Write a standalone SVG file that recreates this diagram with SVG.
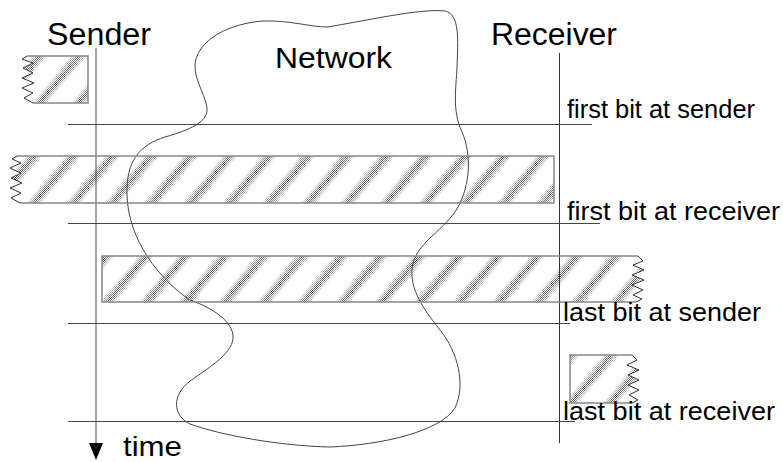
<svg xmlns="http://www.w3.org/2000/svg" width="783" height="462" viewBox="0 0 783 462">
<style>
.t{font-family:"Liberation Sans",Arial,sans-serif;fill:#000}
.big{font-size:31px}
.lbl{font-size:25px}
.hl{stroke:#444;stroke-width:1;fill:none}
.edge{stroke:#888;stroke-width:1.5;fill:none}
.zz{stroke:#333;stroke-width:1;fill:none}
.cloud{stroke:#444;stroke-width:1;fill:none}
</style>
<defs>
<pattern id="checker" width="2" height="2" patternUnits="userSpaceOnUse"><rect width="1" height="1" fill="#444"/><rect x="1" y="1" width="1" height="1" fill="#444"/></pattern>
<linearGradient id="sg" x1="0" y1="0" x2="1" y2="0"><stop offset="0" stop-color="#000"/><stop offset="0.25" stop-color="#777"/><stop offset="0.5" stop-color="#eee"/><stop offset="0.75" stop-color="#777"/><stop offset="1" stop-color="#000"/></linearGradient>
<pattern id="stripes" patternUnits="userSpaceOnUse" width="30" height="30" patternTransform="rotate(40)"><rect width="13" height="30" fill="url(#sg)"/></pattern>
<mask id="sm" maskUnits="userSpaceOnUse" x="0" y="0" width="783" height="462"><rect width="783" height="462" fill="url(#stripes)"/></mask>
</defs>

<g id="axes" class="connectors">
<line x1="96" y1="48" x2="96" y2="444" stroke="#888" stroke-width="1.5"/>
<path d="M89,443 L103,443 L96,460 Z" fill="#000"/>
<line x1="559.5" y1="53" x2="559.5" y2="443" stroke="#333" stroke-width="1"/>
<line class="hl" x1="68" y1="124.5" x2="592" y2="124.5"/>
<line class="hl" x1="68" y1="223.5" x2="600" y2="223.5"/>
<line class="hl" x1="68" y1="323.5" x2="570" y2="323.5"/>
<line class="hl" x1="68" y1="421.5" x2="575" y2="421.5"/>
</g>

<g id="network">
<path class="cloud" d="M207,110 C208,100 194,80 195,65 C196,45 220,25 262,21 C290,20 310,27 327,27 C360,22 420,8 445,11 C460,14 458,40 457,67 C456,90 452,110 462,132 C472,155 470,185 458,207 C445,230 420,240 413,263 C408,285 420,305 440,330 C458,352 466,385 455,408 C440,432 380,445 330,447 C280,446 220,435 190,424 C172,415 172,395 190,381 C210,367 235,352 233,335 C231,318 205,305 190,300 C160,280 128,240 127,195 C126,160 140,145 165,137 C190,130 207,122 207,110 Z"/>
<text class="t" x="275" y="68" font-size="29" textLength="117" lengthAdjust="spacingAndGlyphs">Network</text>
</g>

<g id="sender">
<text class="t big" x="47" y="45" textLength="104" lengthAdjust="spacingAndGlyphs">Sender</text>
</g>
<g id="receiver">
<text class="t big" x="491" y="45" textLength="126" lengthAdjust="spacingAndGlyphs">Receiver</text>
</g>

<g id="packet1">
<polygon mask="url(#sm)" fill="url(#checker)" points="27,56 88,56 88,103 33,103 24,98 33,93 22,88 34,83 22,78 33,73 23,68 33,63 22,59"/>
<polyline class="edge" points="27,56 88,56 88,103 33,103"/>
<polyline class="zz" points="27,56 22,59 33,63 23,68 33,73 22,78 34,83 22,88 33,93 24,98 33,103"/>
</g>

<g id="packet2">
<polygon mask="url(#sm)" fill="url(#checker)" points="17,156 554,156 554,203 20,203 11,198 21,193 10,188 22,183 11,178 21,173 10,168 21,163 12,159"/>
<polyline class="edge" points="17,156 554,156 554,203 20,203"/>
<polyline class="zz" points="17,156 12,159 21,163 10,168 21,173 11,178 22,183 10,188 21,193 11,198 20,203"/>
</g>

<g id="packet3">
<polygon mask="url(#sm)" fill="url(#checker)" points="102,256 638,256 643,261 633,265 644,270 632,275 644,280 632,285 643,290 633,295 642,299 636,302 102,302"/>
<polyline class="edge" points="638,256 102,256 102,302 636,302"/>
<polyline class="zz" points="638,256 643,261 633,265 644,270 632,275 644,280 632,285 643,290 633,295 642,299 636,302"/>
</g>

<g id="packet4">
<polygon mask="url(#sm)" fill="url(#checker)" points="570,355 632,355 637,360 627,365 639,370 628,375 639,380 628,385 639,390 629,395 638,400 632,403 570,403"/>
<polyline class="edge" points="632,355 570,355 570,403 632,403"/>
<polyline class="zz" points="632,355 637,360 627,365 639,370 628,375 639,380 628,385 639,390 629,395 638,400 632,403"/>
</g>

<g id="labels">
<text class="t lbl" x="567" y="118" textLength="188" lengthAdjust="spacingAndGlyphs">first bit at sender</text>
<text class="t lbl" x="567" y="220" textLength="213" lengthAdjust="spacingAndGlyphs">first bit at receiver</text>
<text class="t lbl" x="563" y="321" textLength="198" lengthAdjust="spacingAndGlyphs">last bit at sender</text>
<text class="t lbl" x="563" y="420" textLength="212" lengthAdjust="spacingAndGlyphs">last bit at receiver</text>
<text class="t" x="123" y="456" font-size="28" textLength="59" lengthAdjust="spacingAndGlyphs">time</text>
</g>
</svg>
